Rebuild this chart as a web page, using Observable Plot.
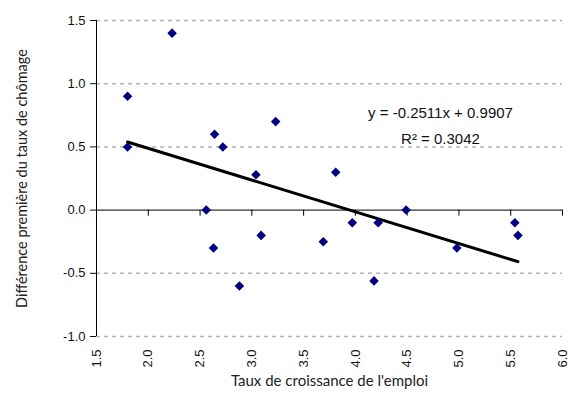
<!DOCTYPE html>
<html><head><meta charset="utf-8">
<script src="https://cdn.jsdelivr.net/npm/d3@7"></script>
<script src="https://cdn.jsdelivr.net/npm/@observablehq/plot@0.6"></script>
<style>body{margin:0;background:#fff}</style>
</head><body><div id="chart"></div>
<script>
// Data
const emploi  = [1.80, 1.80, 2.23, 2.64, 2.72, 3.04, 3.23, 3.81, 2.56, 2.63, 2.88, 3.09, 3.69, 3.97, 4.22, 4.18, 4.49, 4.98, 5.54, 5.57];
const chomage = [0.90, 0.50, 1.40, 0.60, 0.50, 0.28, 0.70, 0.30, 0.00, -0.30, -0.60, -0.20, -0.25, -0.10, -0.10, -0.56, 0.00, -0.30, -0.10, -0.20];
const slope = -0.2511, intercept = 0.9907, r2 = 0.3042;
const xTicks = [1.5, 2.0, 2.5, 3.0, 3.5, 4.0, 4.5, 5.0, 5.5, 6.0];
const yTicks = [-1.0, -0.5, 0.0, 0.5, 1.0, 1.5];
const gridY = [-1.0, -0.5, 0.5, 1.0, 1.5];
const xTitle = "Taux de croissance de l'emploi";
const yTitle = "Différence première du taux de chômage";
const eqText = `y = ${slope}x + ${intercept}`;
const r2Text = `R² = ${r2}`;

const points = emploi.map((x, i) => ({x, y: chomage[i]}));
const xmin = d3.min(emploi), xmax = d3.max(emploi);
const trend = [xmin, xmax].map(x => ({x, y: slope * x + intercept}));
const fmt = d => d.toFixed(1);
const font = "'Liberation Sans', Arial, sans-serif";
const titleFont = "Lato, 'Open Sans', sans-serif";

const chart = Plot.plot({
  width: 573, height: 397,
  marginLeft: 96, marginRight: 11, marginTop: 20, marginBottom: 61,
  style: {fontFamily: font, fontSize: "13px", color: "#111", background: "#fff"},
  x: {domain: [1.5, 6.0]},
  y: {domain: [-1.0, 1.5]},
  marks: [
    Plot.ruleY(gridY, {y: d => d, stroke: "#b4b4b4", strokeWidth: 1.5, strokeDasharray: "4,4", x1: 1.5, x2: 6.0}),
    Plot.ruleY([0], {stroke: "#000", strokeWidth: 1}),
    Plot.ruleX([1.5], {stroke: "#000", strokeWidth: 1}),
    Plot.ruleX(xTicks.slice(1), {x: d => d, y1: 0, y2: -0.048, stroke: "#000", strokeWidth: 1}),
    Plot.axisY({ticks: yTicks, tickFormat: fmt, tickSize: 6, tickPadding: 5, fontSize: 13, label: null}),
    Plot.axisX({ticks: xTicks, tickFormat: fmt, tickSize: 0, tickRotate: -90, tickPadding: 13, fontSize: 13, label: null, anchor: "bottom"}),
    Plot.line(trend, {x: "x", y: "y", stroke: "#000", strokeWidth: 3}),
    Plot.dot(points, {x: "x", y: "y", symbol: "diamond2", r: 4.3, fill: "#000080", stroke: "none"}),
    Plot.text([eqText], {frameAnchor: "top-right", dx: -122, dy: 87, text: d => d, fontSize: 15, fill: "#111", textAnchor: "middle"}),
    Plot.text([r2Text], {frameAnchor: "top-right", dx: -122, dy: 113, text: d => d, fontSize: 15, fill: "#111", textAnchor: "middle"}),
    Plot.text([xTitle], {frameAnchor: "bottom", dy: 49, text: d => d, fontSize: 15, fill: "#222", fontFamily: titleFont}),
    Plot.text([yTitle], {frameAnchor: "left", dx: -74, rotate: -90, text: d => d, fontSize: 14.5, fill: "#222", fontFamily: titleFont, textAnchor: "middle"})
  ]
});
document.getElementById("chart").appendChild(chart);
</script>
</body></html>
